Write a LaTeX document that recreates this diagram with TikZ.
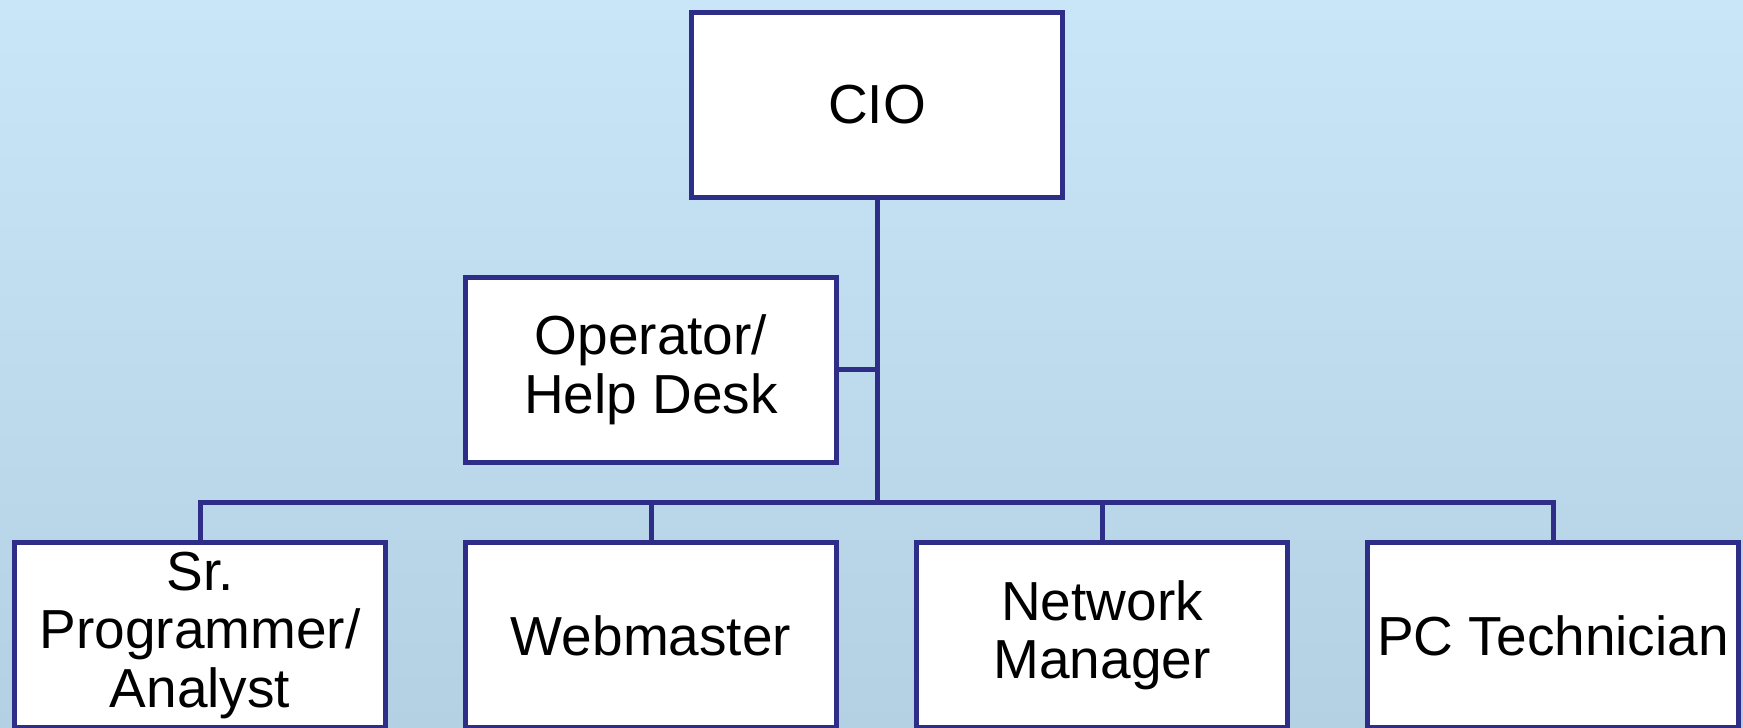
\documentclass[tikz,border=0pt]{standalone}
\usepackage{fontspec}
\setmainfont{Liberation Sans}
\definecolor{strokecol}{RGB}{46,46,136}
\definecolor{bgtop}{RGB}{200,230,248}
\definecolor{bgbottom}{RGB}{179,209,227}
\tikzset{
  post/.style={draw=strokecol,fill=white,line width=5bp,minimum width=371bp,
    minimum height=185bp,inner sep=0pt,align=center,
    font=\fontsize{55bp}{58.5bp}\selectfont},
  edge/.style={draw=strokecol,line width=5bp},
}
\begin{document}
\begin{tikzpicture}[line join=miter]
  \useasboundingbox (0bp,0bp) rectangle (1743bp,728bp);
  \shade [top color=bgtop,bottom color=bgbottom] (0bp,0bp) rectangle (1743bp,728bp);
  \clip (0bp,0bp) rectangle (1743bp,728bp);
%%
  % Node: CIO
  \node [post] (cio) at (877bp,623bp) {CIO};
  % Node: Operator
  \node [post] (help) at (651bp,358bp) {Operator/\\Help Desk};
  % Node: Bus
  \coordinate (bus) at (877bp,225bp);
  % Node: Programmer
  \node [post] (prog) at (200bp,92.5bp) {Sr.\\Programmer/\\Analyst};
  % Node: Webmaster
  \node [post] (web) at (651bp,92.5bp) {Webmaster};
  % Node: Network
  \node [post] (net) at (1102bp,92.5bp) {Network\\Manager};
  % Node: Technician
  \node [post] (tech) at (1553bp,92.5bp) {PC Technician};
%
  % Edge: CIO -> Bus
  \draw [edge] (cio.south) -- (bus);
  % Edge: Operator -> Bus
  \draw [edge] (help.east) -- (help.east -| bus);
  % Edge: Bus -> Programmer, Technician
  \draw [edge] (prog.north) |- (tech.north |- bus) -- (tech.north);
  % Edge: Bus -> Webmaster
  \draw [edge] (web.north) -- (web.north |- bus);
  % Edge: Bus -> Network
  \draw [edge] (net.north) -- (net.north |- bus);
%
\end{tikzpicture}
\end{document}
